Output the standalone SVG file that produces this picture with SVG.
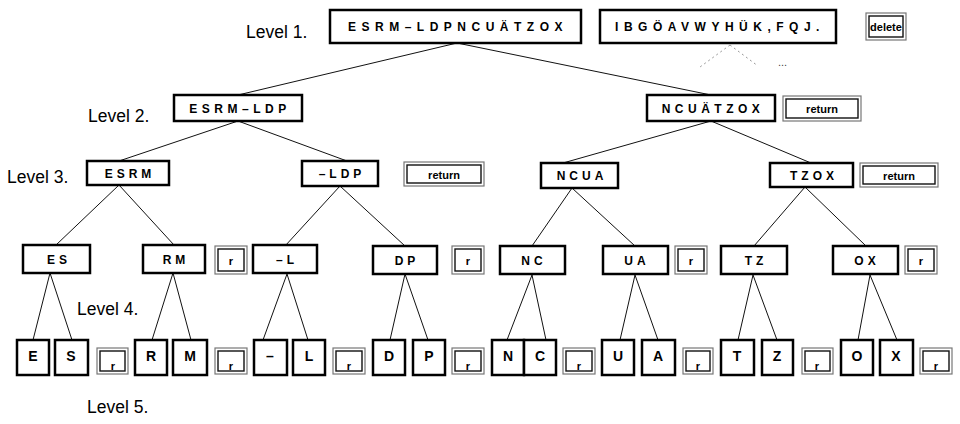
<svg xmlns="http://www.w3.org/2000/svg" width="960" height="424" viewBox="0 0 960 424">
<style>
.n rect{fill:#fff;stroke:#000;stroke-width:2.5}
.b .o{fill:#fff;stroke:#777;stroke-width:1.2}
.b .i{fill:none;stroke:#111;stroke-width:1.4}
text{font-family:"Liberation Sans",Arial,sans-serif;fill:#000}
.t{font-weight:bold;font-size:12px;text-anchor:middle}
.t1{letter-spacing:5.5px}
.t2{letter-spacing:4.5px}
.t3{letter-spacing:4px}
.l{font-weight:bold;font-size:14px;text-anchor:middle}
.bt{font-weight:bold;font-size:11px;text-anchor:middle}
.lv{font-size:17.5px}
.c line{stroke:#111;stroke-width:1}
.d line{stroke:#999;stroke-width:1;stroke-dasharray:2 3}
</style>
<rect width="960" height="424" fill="#fff"/>
<g id="labels">
<text class="lv" x="246" y="38">Level 1.</text>
<text class="lv" x="88" y="122">Level 2.</text>
<text class="lv" x="7" y="183">Level 3.</text>
<text class="lv" x="77" y="315">Level 4.</text>
<text class="lv" x="87" y="413">Level 5.</text>
</g>
<g id="connectors" class="c">
<line x1="457" y1="43" x2="238" y2="95"/>
<line x1="457" y1="43" x2="711" y2="95"/>
<line x1="238" y1="121" x2="119" y2="161"/>
<line x1="238" y1="121" x2="347" y2="161"/>
<line x1="711" y1="121" x2="563" y2="163"/>
<line x1="711" y1="121" x2="811" y2="163"/>
<line x1="119" y1="185" x2="56" y2="245"/>
<line x1="119" y1="185" x2="174" y2="245"/>
<line x1="340" y1="186" x2="285" y2="246"/>
<line x1="340" y1="186" x2="405" y2="246"/>
<line x1="572" y1="188" x2="532" y2="246"/>
<line x1="572" y1="188" x2="635" y2="246"/>
<line x1="805" y1="187" x2="754" y2="246"/>
<line x1="805" y1="187" x2="866" y2="246"/>
<line x1="50" y1="273" x2="33" y2="340"/>
<line x1="50" y1="273" x2="72" y2="340"/>
<line x1="173" y1="273" x2="152" y2="340"/>
<line x1="173" y1="273" x2="191" y2="340"/>
<line x1="287" y1="274" x2="263" y2="340"/>
<line x1="287" y1="274" x2="308" y2="340"/>
<line x1="405" y1="274" x2="390" y2="340"/>
<line x1="405" y1="274" x2="428" y2="340"/>
<line x1="532" y1="275" x2="507" y2="340"/>
<line x1="532" y1="275" x2="546" y2="340"/>
<line x1="635" y1="275" x2="620" y2="340"/>
<line x1="635" y1="275" x2="658" y2="340"/>
<line x1="753" y1="275" x2="738" y2="340"/>
<line x1="753" y1="275" x2="777" y2="340"/>
<line x1="870" y1="275" x2="858" y2="340"/>
<line x1="870" y1="275" x2="897" y2="340"/>
<g class="d">
<line x1="730" y1="45" x2="700" y2="67"/>
<line x1="730" y1="45" x2="758" y2="66"/>
</g>
<text x="778" y="66" style="font-size:11px;fill:#444">...</text>
</g>
<g id="n-root" class="n"><rect x="330" y="10" width="251" height="33"/><text class="t t1" x="458" y="31">ESRM–LDPNCUÄTZOX</text></g>
<g id="n-rest" class="n"><rect x="600" y="10" width="236" height="33"/><text class="t t1" x="720" y="31">IBGÖAVWYHÜK,FQJ.</text></g>
<g id="b-delete" class="b"><rect class="o" x="866" y="13" width="40" height="27"/><rect class="i" x="869" y="16" width="34" height="21"/><text class="bt" x="886" y="31">delete</text></g>
<g id="n-esrmldp" class="n"><rect x="174" y="95" width="128" height="26"/><text class="t t2" x="240" y="113">ESRM–LDP</text></g>
<g id="n-ncuatzox" class="n"><rect x="647" y="95" width="128" height="26"/><text class="t t2" x="713" y="113">NCUÄTZOX</text></g>
<g id="b-return2" class="b"><rect class="o" x="783" y="96" width="78" height="25"/><rect class="i" x="786" y="99" width="72" height="19"/><text class="bt" x="822" y="113">return</text></g>
<g id="n-esrm" class="n"><rect x="87" y="161" width="82" height="24"/><text class="t t3" x="130" y="178">ESRM</text></g>
<g id="n-ldp" class="n"><rect x="302" y="161" width="76" height="25"/><text class="t t3" x="342" y="178">–LDP</text></g>
<g id="b-return3a" class="b"><rect class="o" x="404" y="162" width="80" height="24"/><rect class="i" x="407" y="165" width="74" height="18"/><text class="bt" x="444" y="179">return</text></g>
<g id="n-ncua" class="n"><rect x="541" y="163" width="77" height="25"/><text class="t t3" x="582" y="180">NCUA</text></g>
<g id="n-tzox" class="n"><rect x="770" y="163" width="83" height="24"/><text class="t t3" x="814" y="180">TZOX</text></g>
<g id="b-return3b" class="b"><rect class="o" x="860" y="163" width="78" height="24"/><rect class="i" x="863" y="166" width="72" height="18"/><text class="bt" x="899" y="180">return</text></g>
<g id="n-es" class="n"><rect x="23" y="245" width="67" height="28"/><text class="t t3" x="59" y="264">ES</text></g>
<g id="n-rm" class="n"><rect x="143" y="245" width="62" height="28"/><text class="t t3" x="176" y="264">RM</text></g>
<g id="b-r4a" class="b"><rect class="o" x="215" y="246" width="32" height="28"/><rect class="i" x="218" y="249" width="26" height="22"/><text class="bt" x="231" y="265">r</text></g>
<g id="n-l" class="n"><rect x="253" y="245" width="64" height="28"/><text class="t t3" x="287" y="264">–L</text></g>
<g id="n-dp" class="n"><rect x="373" y="246" width="64" height="28"/><text class="t t3" x="407" y="265">DP</text></g>
<g id="b-r4b" class="b"><rect class="o" x="452" y="246" width="32" height="28"/><rect class="i" x="455" y="249" width="26" height="22"/><text class="bt" x="468" y="265">r</text></g>
<g id="n-nc" class="n"><rect x="500" y="246" width="65" height="28"/><text class="t t3" x="534" y="265">NC</text></g>
<g id="n-ua" class="n"><rect x="603" y="246" width="65" height="28"/><text class="t t3" x="637" y="265">UA</text></g>
<g id="b-r4c" class="b"><rect class="o" x="675" y="246" width="32" height="28"/><rect class="i" x="678" y="249" width="26" height="22"/><text class="bt" x="691" y="265">r</text></g>
<g id="n-tz" class="n"><rect x="721" y="246" width="66" height="28"/><text class="t t3" x="756" y="265">TZ</text></g>
<g id="n-ox" class="n"><rect x="833" y="246" width="65" height="28"/><text class="t t3" x="867" y="265">OX</text></g>
<g id="b-r4d" class="b"><rect class="o" x="905" y="246" width="32" height="28"/><rect class="i" x="908" y="249" width="26" height="22"/><text class="bt" x="921" y="265">r</text></g>
<g id="n-e" class="n"><rect x="17" y="340" width="32" height="35"/><text class="l" x="33" y="361">E</text></g>
<g id="n-s" class="n"><rect x="55" y="340" width="33" height="35"/><text class="l" x="71" y="361">S</text></g>
<g id="b-r5a" class="b"><rect class="o" x="97" y="348" width="31" height="26"/><rect class="i" x="100" y="351" width="25" height="20"/><text class="bt" x="113" y="370">r</text></g>
<g id="n-r" class="n"><rect x="135" y="340" width="32" height="35"/><text class="l" x="151" y="361">R</text></g>
<g id="n-m" class="n"><rect x="173" y="340" width="34" height="35"/><text class="l" x="190" y="361">M</text></g>
<g id="b-r5b" class="b"><rect class="o" x="215" y="348" width="32" height="26"/><rect class="i" x="218" y="351" width="26" height="20"/><text class="bt" x="231" y="370">r</text></g>
<g id="n-dash" class="n"><rect x="254" y="340" width="33" height="35"/><text class="l" x="270" y="361">–</text></g>
<g id="n-ll" class="n"><rect x="293" y="340" width="32" height="35"/><text class="l" x="309" y="361">L</text></g>
<g id="b-r5c" class="b"><rect class="o" x="333" y="348" width="32" height="26"/><rect class="i" x="336" y="351" width="26" height="20"/><text class="bt" x="349" y="370">r</text></g>
<g id="n-d" class="n"><rect x="373" y="340" width="32" height="35"/><text class="l" x="389" y="361">D</text></g>
<g id="n-p" class="n"><rect x="413" y="340" width="32" height="35"/><text class="l" x="429" y="361">P</text></g>
<g id="b-r5d" class="b"><rect class="o" x="452" y="348" width="32" height="26"/><rect class="i" x="455" y="351" width="26" height="20"/><text class="bt" x="468" y="370">r</text></g>
<g id="n-n" class="n"><rect x="492" y="340" width="32" height="35"/><text class="l" x="508" y="361">N</text></g>
<g id="n-c" class="n"><rect x="524" y="340" width="32" height="35"/><text class="l" x="540" y="361">C</text></g>
<g id="b-r5e" class="b"><rect class="o" x="563" y="348" width="32" height="26"/><rect class="i" x="566" y="351" width="26" height="20"/><text class="bt" x="579" y="370">r</text></g>
<g id="n-u" class="n"><rect x="602" y="340" width="32" height="35"/><text class="l" x="618" y="361">U</text></g>
<g id="n-a" class="n"><rect x="642" y="340" width="33" height="35"/><text class="l" x="658" y="361">A</text></g>
<g id="b-r5f" class="b"><rect class="o" x="683" y="348" width="30" height="26"/><rect class="i" x="686" y="351" width="24" height="20"/><text class="bt" x="698" y="370">r</text></g>
<g id="n-t" class="n"><rect x="721" y="340" width="33" height="35"/><text class="l" x="737" y="361">T</text></g>
<g id="n-z" class="n"><rect x="762" y="340" width="31" height="35"/><text class="l" x="777" y="361">Z</text></g>
<g id="b-r5g" class="b"><rect class="o" x="802" y="348" width="31" height="26"/><rect class="i" x="805" y="351" width="25" height="20"/><text class="bt" x="817" y="370">r</text></g>
<g id="n-o" class="n"><rect x="841" y="340" width="32" height="35"/><text class="l" x="857" y="361">O</text></g>
<g id="n-x" class="n"><rect x="880" y="340" width="33" height="35"/><text class="l" x="896" y="361">X</text></g>
<g id="b-r5h" class="b"><rect class="o" x="920" y="348" width="32" height="26"/><rect class="i" x="923" y="351" width="26" height="20"/><text class="bt" x="936" y="370">r</text></g>
</svg>
